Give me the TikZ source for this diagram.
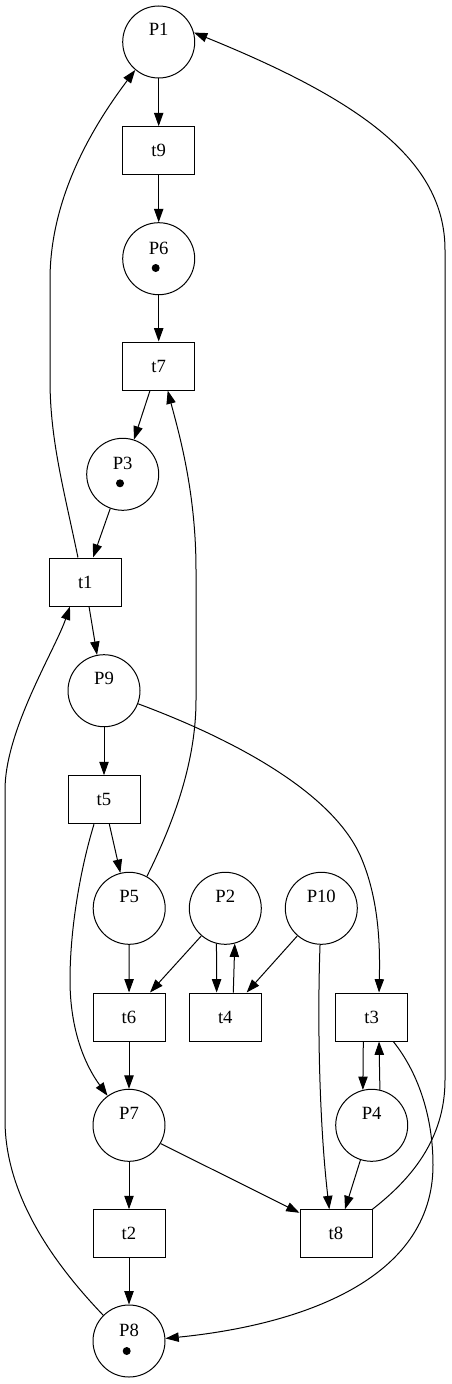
\documentclass[tikz,border=0pt]{standalone}
\usepackage{fontspec}
\setmainfont{Liberation Serif}
\usetikzlibrary{arrows.meta}
\begin{document}
\begin{tikzpicture}[x=0.75pt,y=-0.75pt,line width=0.75pt,
  place/.style={circle,draw,minimum size=54pt,inner sep=0pt},
  trans/.style={rectangle,draw,minimum width=54pt,minimum height=36pt,inner sep=0pt,font=\fontsize{14pt}{16pt}\selectfont},
  lbl/.style={anchor=base,inner sep=0pt,font=\fontsize{14pt}{16pt}\selectfont},
  tok/.style={circle,fill,inner sep=0pt,minimum size=6pt},
  arc/.style={-{Triangle[length=10pt,width=7pt]}}]
\fill[white] (0,0) rectangle (452,1384);
\useasboundingbox (0,0) rectangle (452,1384);
% places
\node[place] (P1) at (158.7,42) {};
\node[lbl] (P1l) at (158.7,36) {P1};
\node[place] (P6) at (158.7,258.7) {};
\node[lbl] (P6l) at (158.7,254.3) {P6};
\node[tok] (P6k) at (155.7,268) {};
\node[place] (P3) at (122.7,474.3) {};
\node[lbl] (P3l) at (122.7,469.5) {P3};
\node[tok] (P3k) at (120,483.3) {};
\node[place] (P9) at (104,690.7) {};
\node[lbl] (P9l) at (104,684.7) {P9};
\node[place] (P5) at (129.2,908.3) {};
\node[lbl] (P5l) at (129.2,902.3) {P5};
\node[place] (P2) at (225.3,908.3) {};
\node[lbl] (P2l) at (225.3,902.3) {P2};
\node[place] (P10) at (321.3,908.3) {};
\node[lbl] (P10l) at (321.3,902.3) {P10};
\node[place] (P7) at (129,1125.3) {};
\node[lbl] (P7l) at (129,1119.3) {P7};
\node[place] (P4) at (371.7,1125.3) {};
\node[lbl] (P4l) at (371.7,1119.3) {P4};
\node[place] (P8) at (129,1341) {};
\node[lbl] (P8l) at (129,1336.6) {P8};
\node[tok] (P8k) at (126.7,1351) {};
% transitions
\node[trans] (t9) at (158.7,150.7) {t9};
\node[trans] (t7) at (158.7,366) {t7};
\node[trans] (t1) at (85.3,582) {t1};
\node[trans] (t5) at (104,799.7) {t5};
\node[trans] (t6) at (129,1017) {t6};
\node[trans] (t4) at (225.3,1017) {t4};
\node[trans] (t3) at (371.7,1017) {t3};
\node[trans] (t2) at (129,1233.7) {t2};
\node[trans] (t8) at (336,1233.7) {t8};
% arcs
\draw[arc] (P1) -- (t9);
\draw[arc] (t9) -- (P6);
\draw[arc] (P6) -- (t7);
\draw[arc] ([xshift=-6.5pt]t7.south) -- (P3.72);
\draw[arc] (P5.61) .. controls (175,820) and (196,760) .. (196,700) -- (196,570) .. controls (196,490) and (178,430) .. ([xshift=6.75pt]t7.south);
\draw[arc] (P3.250) -- ([xshift=5.8pt]t1.north);
\draw[arc] ([xshift=-5.5pt]t1.north) .. controls (64,490) and (50,440) .. (50,380) -- (50,280) .. controls (50,200) and (90,130) .. (P1.230);
\draw[arc] ([xshift=2.8pt]t1.south) -- (P9.101);
\draw[arc] (P8.135) .. controls (60,1270) and (5,1200) .. (5,1120) -- (5,790) .. controls (5,730) and (55,650) .. ([xshift=-11.5pt]t1.south);
\draw[arc] (P9) -- (t5);
\draw[arc] (P9.339) .. controls (230,738) and (330,790) .. (360,855) .. controls (380,900) and (380,950) .. ([xshift=5.5pt]t3.north);
\draw[arc] ([xshift=4pt]t5.south) -- (P5.104);
\draw[arc] ([xshift=-7.5pt]t5.south) .. controls (80,870) and (70,930) .. (70,980) .. controls (70,1030) and (85,1065) .. (P7.126);
\draw[arc] (P5) -- (t6);
\draw[arc] (P2.229) -- ([xshift=15.75pt]t6.north);
\draw[arc] (P2.256) -- ([xshift=-6.5pt]t4.north);
\draw[arc] ([xshift=6pt]t4.north) -- (P2.285);
\draw[arc] (P10.229) -- ([xshift=16pt]t4.north);
\draw[arc] (P10.268) .. controls (317,1030) and (320,1130) .. ([xshift=-5pt]t8.north);
\draw[arc] (t6) -- (P7);
\draw[arc] ([xshift=-6.3pt]t3.south) -- (P4.104);
\draw[arc] (P4.77) -- ([xshift=5.5pt]t3.south);
\draw[arc] ([xshift=16.2pt]t3.south) .. controls (420,1075) and (433,1120) .. (433,1165) .. controls (433,1280) and (300,1325) .. (P8.4);
\draw[arc] (P4.252) -- ([xshift=6.75pt]t8.north);
\draw[arc] (P7.330) -- ([yshift=-2.7pt]t8.north west);
\draw[arc] (P7) -- (t2);
\draw[arc] (t2) -- (P8);
\draw[arc] (t8.north east) .. controls (410,1180) and (445,1140) .. (445,1080) -- (445,250) .. controls (445,160) and (360,100) .. (P1.15);
\end{tikzpicture}
\end{document}
